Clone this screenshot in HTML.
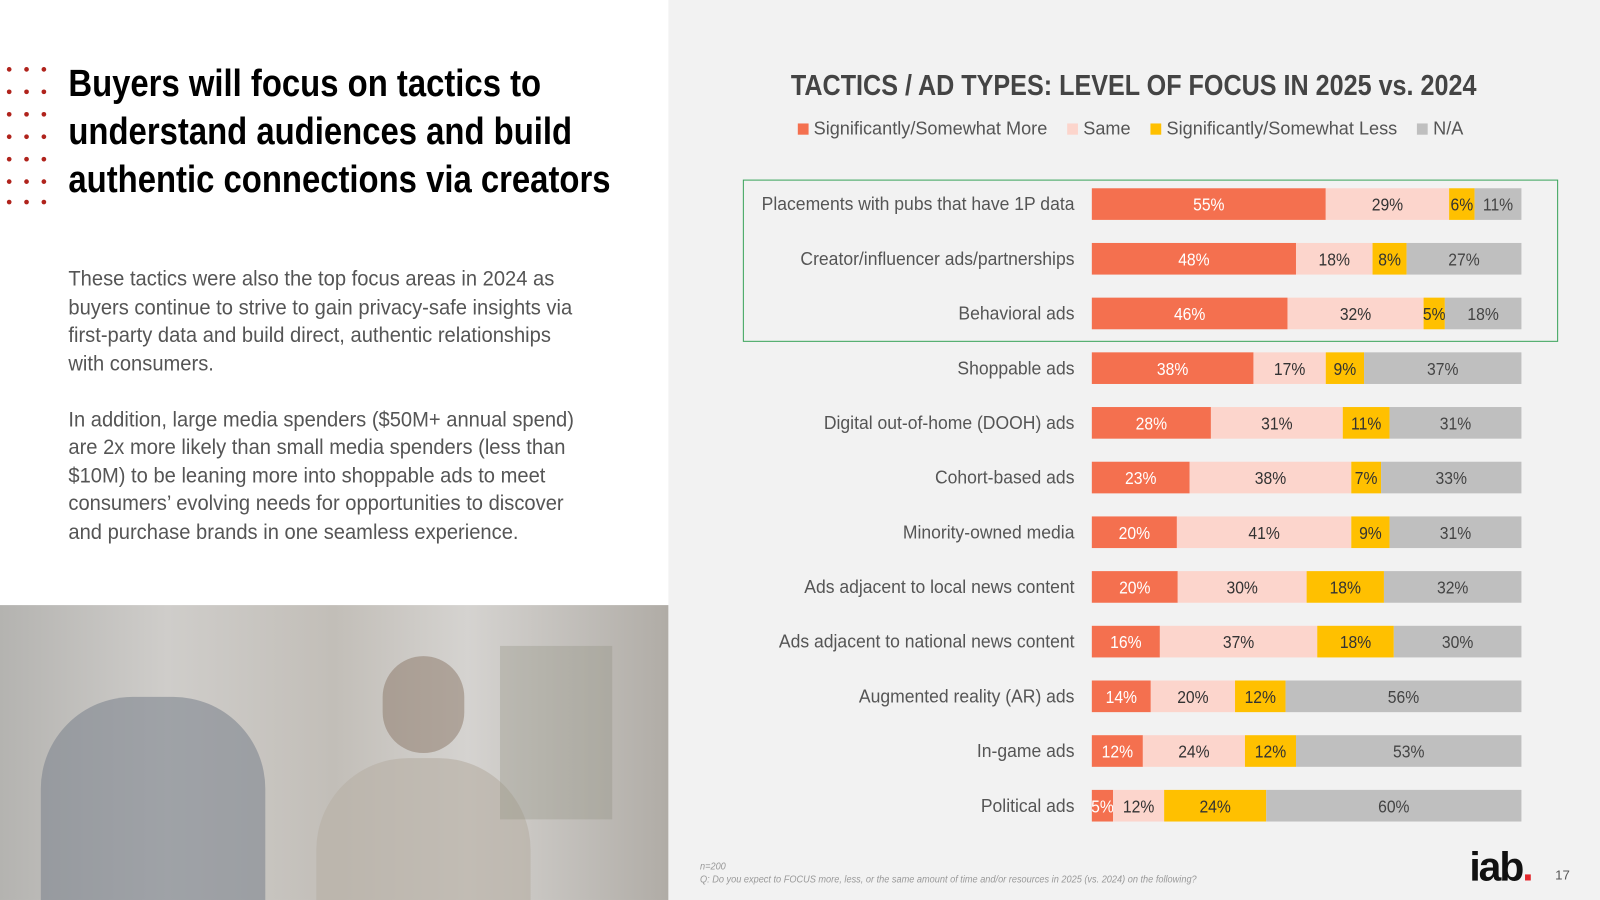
<!DOCTYPE html>
<html><head><meta charset="utf-8"><style>
html,body{margin:0;padding:0;width:1600px;height:900px;overflow:hidden;background:#f2f2f2}
#wrap{position:absolute;left:0;top:0;width:1568px;height:882px;transform:scale(1.0204);transform-origin:0 0;font-family:"Liberation Sans",sans-serif}
.abs{position:absolute}
</style></head><body>
<div id="wrap">
<div class="abs" style="left:0;top:0;width:655px;height:882px;background:#fff"></div>
<svg class="abs" style="left:0;top:60px" width="50" height="145">
<g fill="#b0231c">
<circle cx="9" cy="8" r="2.3"/><circle cx="26" cy="8" r="2.3"/><circle cx="43" cy="8" r="2.3"/>
<circle cx="9" cy="30" r="2.3"/><circle cx="26" cy="30" r="2.3"/><circle cx="43" cy="30" r="2.3"/>
<circle cx="9" cy="52" r="2.3"/><circle cx="26" cy="52" r="2.3"/><circle cx="43" cy="52" r="2.3"/>
<circle cx="9" cy="74" r="2.3"/><circle cx="26" cy="74" r="2.3"/><circle cx="43" cy="74" r="2.3"/>
<circle cx="9" cy="96" r="2.3"/><circle cx="26" cy="96" r="2.3"/><circle cx="43" cy="96" r="2.3"/>
<circle cx="9" cy="118" r="2.3"/><circle cx="26" cy="118" r="2.3"/><circle cx="43" cy="118" r="2.3"/>
<circle cx="9" cy="138" r="2.3"/><circle cx="26" cy="138" r="2.3"/><circle cx="43" cy="138" r="2.3"/>
</g></svg>
<div class="abs" style="left:67px;top:58px;width:680px;font-size:37px;font-weight:bold;line-height:47px;color:#000;transform:scaleX(0.87);transform-origin:0 0">Buyers will focus on tactics to<br>understand audiences and build<br>authentic connections via creators</div>
<div class="abs" style="left:67px;top:260px;width:545px;font-size:21px;line-height:27.5px;color:#555;transform:scaleX(0.94);transform-origin:0 0">These tactics were also the top focus areas in 2024 as buyers continue to strive to gain privacy-safe insights via first-party data and build direct, authentic relationships with consumers.<br><br>In addition, large media spenders ($50M+ annual spend) are 2x more likely than small media spenders (less than $10M) to be leaning more into shoppable ads to meet consumers’ evolving needs for opportunities to discover and purchase brands in one seamless experience.</div>
<div class="abs" style="left:0;top:593px;width:655px;height:289px;background:linear-gradient(90deg,#b4b3b0 0%,#cfcdca 25%,#c2beb8 50%,#d5d3d0 70%,#b0aca6 100%);overflow:hidden">
<div class="abs" style="left:40px;top:90px;width:220px;height:209px;background:#7e8590;border-radius:90px 90px 0 0;opacity:.6"></div>
<div class="abs" style="left:375px;top:50px;width:80px;height:95px;background:#8a7566;border-radius:40px;opacity:.5"></div>
<div class="abs" style="left:310px;top:150px;width:210px;height:139px;background:#b9b2a8;border-radius:90px 90px 0 0;opacity:.7"></div>
<div class="abs" style="left:490px;top:40px;width:110px;height:170px;background:#8a8a7c;opacity:.3"></div>
</div>
<div class="abs" style="left:1111px;top:68px;width:0;white-space:nowrap;font-size:28px;font-weight:bold;color:#444"><span style="display:inline-block;transform:translateX(-50%) scaleX(0.88);transform-origin:50% 0;position:absolute;left:0">TACTICS / AD TYPES: LEVEL OF FOCUS IN 2025 vs. 2024</span></div>
<div class="abs" style="left:1108px;top:115px;width:0;font-size:18.5px;color:#555;white-space:nowrap">
<div style="position:absolute;left:0;transform:translateX(-50%) scaleX(0.96);transform-origin:50% 0">
<span><span style="display:inline-block;width:11px;height:11px;background:#f4704f"></span> Significantly/Somewhat More</span>&nbsp;&nbsp;&nbsp;
<span><span style="display:inline-block;width:11px;height:11px;background:#fcd5cc"></span> Same</span>&nbsp;&nbsp;&nbsp;
<span><span style="display:inline-block;width:11px;height:11px;background:#ffc000"></span> Significantly/Somewhat Less</span>&nbsp;&nbsp;&nbsp;
<span><span style="display:inline-block;width:11px;height:11px;background:#bfbfbf"></span> N/A</span>
</div></div>
<div class="abs" style="left:728px;top:176px;width:797px;height:157px;border:1px solid #3aa35a"></div>
<svg id="chart" class="abs" style="left:0;top:0" width="1568" height="882"></svg>
<div class="abs" style="left:686px;top:843px;font-size:10px;font-style:italic;color:#999;line-height:13px;transform:scaleX(0.9);transform-origin:0 0;white-space:nowrap">n=200<br>Q: Do you expect to FOCUS more, less, or the same amount of time and/or resources in 2025 (vs. 2024) on the following?</div>
<div class="abs" style="left:1440px;top:828px;font-size:40px;font-weight:bold;color:#111;letter-spacing:-2px">iab<span style="color:#e4272c">.</span></div>
<div class="abs" style="left:1524px;top:850px;font-size:13px;color:#555">17</div>
</div>
<script>
const categories=["Placements with pubs that have 1P data","Creator/influencer ads/partnerships","Behavioral ads","Shoppable ads","Digital out-of-home (DOOH) ads","Cohort-based ads","Minority-owned media","Ads adjacent to local news content","Ads adjacent to national news content","Augmented reality (AR) ads","In-game ads","Political ads"];
const moreVals=[55,48,46,38,28,23,20,20,16,14,12,5];
const sameVals=[29,18,32,17,31,38,41,30,37,20,24,12];
const lessVals=[6,8,5,9,11,7,9,18,18,12,12,24];
const naVals=[11,27,18,37,31,33,31,32,30,56,53,60];
const seriesNames=["more","same","less","na"];
const colors=["#f4704f","#fcd5cc","#ffc000","#bfbfbf"];
const textColors=["#fff","#333","#333","#444"];
const NS="http://www.w3.org/2000/svg";
const svg=document.getElementById('chart');
const x0=1070,xW=421,yTop=200,step=53.6,bh=31;
function yPos(i){return yTop+i*step;}
function xPos(frac){return x0+frac*xW;}
const series=[moreVals,sameVals,lessVals,naVals];
categories.forEach((c,i)=>{
  const yc=yPos(i);
  const lab=document.createElementNS(NS,'text');
  
  
  lab.setAttribute('x',1053);lab.setAttribute('y',yc+6);lab.setAttribute('text-anchor','end');
  lab.setAttribute('font-size','18.5');lab.setAttribute('fill','#555');
  lab.setAttribute('font-family','"Liberation Sans",sans-serif');
  lab.setAttribute('transform','translate(1053 0) scale(0.93 1) translate(-1053 0)');
  lab.textContent=c;svg.appendChild(lab);
  const tot=series.reduce((a,s)=>a+s[i],0);
  let cum=0;
  series.forEach((s,k)=>{
    const v=s[i];const xa=xPos(cum/tot),xb=xPos((cum+v)/tot);cum+=v;
    const r=document.createElementNS(NS,'rect');
    
    
    r.setAttribute('x',xa);r.setAttribute('y',yc-bh/2);r.setAttribute('width',xb-xa);r.setAttribute('height',bh);r.setAttribute('fill',colors[k]);
    svg.appendChild(r);
    const t=document.createElementNS(NS,'text');
    
    
    const cx=(xa+xb)/2;
    t.setAttribute('x',cx);t.setAttribute('y',yc+6.5);t.setAttribute('text-anchor','middle');
    t.setAttribute('font-size','17.5');t.setAttribute('fill',textColors[k]);
    t.setAttribute('font-family','"Liberation Sans",sans-serif');
    t.setAttribute('transform','translate('+cx+' 0) scale(0.88 1) translate('+(-cx)+' 0)');
    t.textContent=v+'%';svg.appendChild(t);
  });
});
</script>
</body></html>
